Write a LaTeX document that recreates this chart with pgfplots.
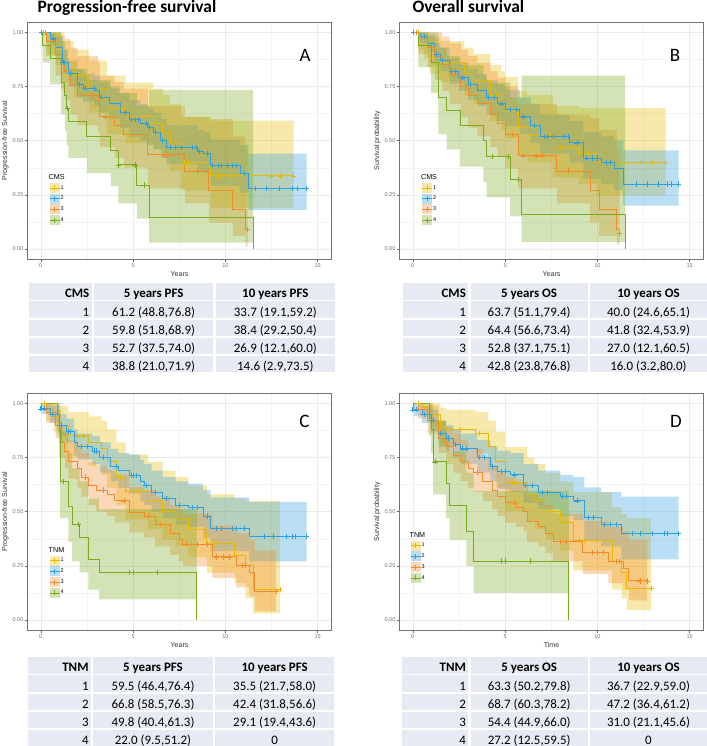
\documentclass[border=0pt]{standalone}
\usepackage{fontspec}
\setmainfont{Carlito}
\newfontfamily\arialf{Liberation Sans}
\usepackage{pgfplots}
\pgfplotsset{compat=1.18}
\usepackage{pgfplotstable}
\usepgfplotslibrary{fillbetween}

\definecolor{cA}{RGB}{231,184,0}
\definecolor{cB}{RGB}{46,159,223}
\definecolor{cC}{RGB}{242,140,40}
\definecolor{cD}{RGB}{122,171,30}
\definecolor{tabfill}{RGB}{232,234,243}
\definecolor{gridc}{RGB}{235,235,235}

% ---------------- Panel A (PFS, CMS) ----------------
\pgfplotstableread{
t s lo hi
0 1 1 1
0.3 0.96 0.90 1
0.8 0.92 0.85 1
1.2 0.86 0.77 0.96
1.8 0.80 0.70 0.92
2.6 0.74 0.63 0.87
3.6 0.65 0.53 0.80
4.6 0.612 0.488 0.768
6.1 0.58 0.46 0.74
6.6 0.54 0.42 0.71
7.0 0.49 0.36 0.67
7.6 0.40 0.27 0.61
9.2 0.337 0.191 0.592
13.7 0.337 0.191 0.592
}\Aone
\pgfplotstableread{
t s lo hi
0 1 1 1
0.5 0.97 0.94 1
0.8 0.93 0.89 0.98
1.2 0.86 0.81 0.92
1.5 0.81 0.75 0.87
2.0 0.76 0.70 0.83
2.3 0.74 0.68 0.81
2.9 0.73 0.66 0.80
3.2 0.70 0.63 0.77
3.7 0.67 0.60 0.75
4.3 0.63 0.56 0.72
4.8 0.598 0.518 0.689
5.4 0.58 0.50 0.67
5.8 0.56 0.48 0.65
6.1 0.54 0.46 0.63
6.5 0.50 0.42 0.60
6.8 0.47 0.39 0.57
8.5 0.45 0.36 0.55
8.8 0.44 0.35 0.54
9.2 0.384 0.292 0.504
10.8 0.35 0.26 0.48
11.25 0.28 0.18 0.44
14.4 0.28 0.18 0.44
}\Atwo
\pgfplotstableread{
t s lo hi
0 1 1 1
0.3 0.96 0.89 1
0.8 0.90 0.80 1
1.1 0.86 0.74 0.99
1.3 0.82 0.69 0.97
1.6 0.76 0.62 0.93
2.0 0.71 0.57 0.89
3.1 0.68 0.54 0.86
3.2 0.61 0.47 0.80
4.0 0.57 0.42 0.77
4.5 0.527 0.375 0.74
5.8 0.434 0.28 0.66
7.8 0.36 0.21 0.61
9.1 0.269 0.121 0.60
10.4 0.18 0.06 0.52
11.1 0.09 0.01 0.45
11.2 0.09 0.01 0.45
}\Athree
\pgfplotstableread{
t s lo hi
0 1 1 1
0.1 0.94 0.86 1
0.5 0.88 0.76 1
1.1 0.77 0.62 0.96
1.3 0.71 0.55 0.92
1.4 0.65 0.48 0.88
1.5 0.59 0.42 0.83
2.5 0.52 0.35 0.78
3.8 0.457 0.29 0.74
4.2 0.388 0.21 0.719
5.2 0.295 0.14 0.66
5.87 0.146 0.029 0.735
11.5 0 0.029 0.735
}\Afour

% ---------------- Panel B (OS, CMS) ----------------
\pgfplotstableread{
t s lo hi
0 1 1 1
0.3 0.97 0.92 1
0.6 0.94 0.88 1
0.9 0.89 0.81 0.98
1.5 0.86 0.77 0.96
2.8 0.81 0.71 0.93
3.3 0.78 0.67 0.90
4.2 0.71 0.59 0.85
4.8 0.67 0.55 0.82
5.0 0.637 0.511 0.794
5.7 0.56 0.43 0.73
6.2 0.53 0.40 0.71
7.6 0.47 0.33 0.66
9.0 0.44 0.30 0.65
10.0 0.40 0.246 0.651
13.7 0.40 0.246 0.651
}\Bone
\pgfplotstableread{
t s lo hi
0 1 1 1
0.4 0.98 0.95 1
0.8 0.95 0.91 0.99
1.2 0.90 0.85 0.95
1.5 0.87 0.82 0.93
2.0 0.82 0.76 0.88
2.5 0.79 0.73 0.86
3.0 0.76 0.69 0.83
3.5 0.73 0.66 0.81
4.0 0.70 0.62 0.78
4.6 0.67 0.59 0.76
5.0 0.644 0.566 0.734
5.8 0.61 0.53 0.70
6.4 0.57 0.49 0.67
6.9 0.52 0.44 0.62
8.5 0.49 0.40 0.59
9.24 0.42 0.324 0.539
10.2 0.40 0.30 0.52
10.9 0.37 0.27 0.50
11.4 0.30 0.20 0.455
14.4 0.30 0.20 0.455
}\Btwo
\pgfplotstableread{
t s lo hi
0 1 1 1
0.3 0.97 0.90 1
0.8 0.93 0.84 1
1.2 0.89 0.78 1
1.6 0.85 0.73 0.98
2.0 0.80 0.67 0.95
2.6 0.75 0.61 0.92
3.0 0.71 0.56 0.89
3.5 0.67 0.52 0.86
4.2 0.62 0.47 0.82
4.6 0.58 0.43 0.79
5.0 0.528 0.371 0.751
5.7 0.43 0.28 0.67
7.8 0.36 0.21 0.62
9.6 0.27 0.121 0.605
10.1 0.18 0.06 0.55
11.05 0.09 0.02 0.45
11.2 0.09 0.02 0.45
}\Bthree
\pgfplotstableread{
t s lo hi
0 1 1 1
0.3 0.94 0.84 1
1.0 0.86 0.72 1
1.39 0.70 0.53 0.93
1.84 0.64 0.46 0.89
2.56 0.57 0.38 0.85
3.83 0.50 0.31 0.80
4.0 0.428 0.238 0.768
5.27 0.32 0.15 0.70
5.9 0.16 0.032 0.80
11.5 0 0.032 0.80
}\Bfour

% ---------------- Panel C (PFS, TNM) ----------------
\pgfplotstableread{
t s lo hi
0 1 1 1
0.3 0.97 0.92 1
0.7 0.94 0.87 1
1.0 0.90 0.82 0.99
1.5 0.85 0.75 0.96
2.6 0.82 0.71 0.94
3.3 0.79 0.67 0.92
3.6 0.73 0.61 0.88
4.1 0.66 0.53 0.82
4.6 0.595 0.464 0.764
5.8 0.55 0.42 0.73
6.6 0.50 0.37 0.69
7.3 0.47 0.34 0.66
8.0 0.42 0.29 0.62
9.0 0.355 0.217 0.58
10.5 0.30 0.17 0.56
11.1 0.25 0.10 0.55
11.5 0.14 0.03 0.55
12.95 0.14 0.03 0.55
}\Cone
\pgfplotstableread{
t s lo hi
0 1 1 1
0.05 0.975 0.95 1
0.5 0.95 0.91 0.99
1.0 0.90 0.85 0.95
1.4 0.87 0.82 0.93
1.8 0.82 0.76 0.88
2.0 0.80 0.74 0.86
2.8 0.78 0.72 0.85
3.2 0.75 0.68 0.82
3.8 0.71 0.64 0.79
4.2 0.69 0.61 0.77
4.8 0.668 0.585 0.763
5.4 0.64 0.55 0.74
5.6 0.62 0.53 0.72
6.0 0.59 0.50 0.69
6.6 0.56 0.47 0.66
7.3 0.53 0.44 0.64
8.0 0.52 0.43 0.63
8.8 0.48 0.38 0.60
9.2 0.424 0.318 0.566
11.3 0.385 0.27 0.545
14.4 0.385 0.27 0.545
}\Ctwo
\pgfplotstableread{
t s lo hi
0 1 1 1
0.3 0.96 0.91 1
0.8 0.90 0.84 0.97
1.1 0.82 0.75 0.90
1.3 0.78 0.70 0.87
1.5 0.73 0.65 0.83
2.0 0.70 0.61 0.80
2.2 0.66 0.57 0.77
2.6 0.62 0.53 0.73
3.0 0.60 0.50 0.71
3.6 0.58 0.48 0.69
4.0 0.55 0.45 0.67
4.8 0.498 0.404 0.613
5.6 0.48 0.38 0.60
6.2 0.44 0.34 0.57
7.0 0.40 0.30 0.53
7.5 0.37 0.27 0.51
7.7 0.35 0.25 0.49
9.3 0.291 0.194 0.436
10.6 0.25 0.15 0.40
11.3 0.22 0.11 0.37
11.6 0.13 0.04 0.32
12.75 0.13 0.04 0.32
}\Cthree
\pgfplotstableread{
t s lo hi
0 1 1 1
0.9 0.95 0.86 1
1.0 0.88 0.75 1
1.05 0.64 0.47 0.87
1.5 0.525 0.36 0.77
1.7 0.44 0.27 0.70
2.1 0.38 0.22 0.64
2.58 0.277 0.14 0.56
3.16 0.22 0.095 0.512
8.45 0 0.095 0.512
}\Cfour

% ---------------- Panel D (OS, TNM) ----------------
\pgfplotstableread{
t s lo hi
0 1 1 1
0.5 0.98 0.94 1
1.0 0.95 0.89 1
1.5 0.89 0.81 0.98
1.8 0.88 0.80 0.97
3.4 0.86 0.77 0.96
4.1 0.80 0.69 0.92
4.5 0.73 0.61 0.87
5.0 0.633 0.502 0.798
6.2 0.58 0.45 0.75
6.6 0.55 0.42 0.72
7.2 0.50 0.37 0.68
8.0 0.45 0.32 0.64
8.7 0.367 0.229 0.59
10.8 0.27 0.14 0.52
11.3 0.22 0.10 0.49
11.6 0.145 0.045 0.47
12.9 0.145 0.045 0.47
}\Done
\pgfplotstableread{
t s lo hi
0 1 1 1
0.05 0.97 0.94 1
0.5 0.95 0.91 0.99
1.0 0.92 0.87 0.97
1.4 0.86 0.80 0.92
1.8 0.84 0.78 0.90
2.2 0.81 0.75 0.88
2.6 0.79 0.72 0.86
3.5 0.75 0.68 0.83
4.2 0.71 0.64 0.80
4.6 0.687 0.603 0.782
5.3 0.67 0.59 0.77
6.0 0.62 0.54 0.72
6.8 0.59 0.51 0.69
8.0 0.57 0.48 0.67
8.7 0.55 0.46 0.66
9.3 0.472 0.364 0.612
10.2 0.44 0.34 0.59
11.3 0.40 0.28 0.57
14.4 0.40 0.28 0.57
}\Dtwo
\pgfplotstableread{
t s lo hi
0 1 1 1
0.3 0.97 0.93 1
0.8 0.92 0.86 0.99
1.4 0.84 0.77 0.92
1.8 0.80 0.72 0.89
2.2 0.76 0.68 0.86
2.6 0.73 0.64 0.83
3.0 0.70 0.61 0.80
3.3 0.68 0.59 0.79
3.8 0.64 0.55 0.75
4.3 0.60 0.51 0.71
4.6 0.57 0.48 0.68
5.0 0.544 0.449 0.66
5.6 0.52 0.43 0.64
6.0 0.50 0.41 0.62
6.2 0.456 0.36 0.58
6.8 0.43 0.34 0.56
7.2 0.40 0.31 0.53
7.6 0.364 0.27 0.49
9.2 0.31 0.211 0.456
10.6 0.27 0.17 0.43
11.4 0.24 0.14 0.41
11.7 0.18 0.09 0.37
12.7 0.18 0.09 0.37
}\Dthree
\pgfplotstableread{
t s lo hi
0 1 1 1
0.9 0.93 0.85 1
1.0 0.88 0.77 1
1.1 0.73 0.58 0.92
1.8 0.632 0.47 0.85
2.0 0.528 0.37 0.78
2.9 0.41 0.25 0.68
3.3 0.272 0.125 0.595
8.45 0 0.125 0.595
}\Dfour

\newcommand{\band}[3]{%
  \addplot[name path=u#3, draw=none, const plot, forget plot] table[x=t,y=hi]{#1};
  \addplot[name path=l#3, draw=none, const plot, forget plot] table[x=t,y=lo]{#1};
  \addplot[fill=#2, fill opacity=0.33, draw=none, forget plot] fill between[of=u#3 and l#3];
}
\newcommand{\curve}[2]{%
  \addplot[#2, const plot, line width=0.9bp, forget plot] table[x=t,y=s]{#1};
}

\pgfplotsset{
  kmkey/.style={#1, mark=+, mark size=2.5bp, line width=0.6bp, mark options={solid, line width=0.6bp}},
  cens/.style={#1, only marks, mark=+, mark size=2.6bp, mark options={line width=0.6bp}, forget plot},
  kmaxis/.style={
    scale only axis, width=304.4bp, height=237.3bp, anchor=south west,
    xmin=-0.73, xmax=15.76, ymin=-0.048, ymax=1.048,
    xtick={0,5,10,15}, xticklabels={0,5,10,15},
    ytick={0,0.25,0.5,0.75,1}, yticklabels={0.00,0.25,0.50,0.75,1.00},
    minor xtick={2.5,7.5,12.5}, minor ytick={0.125,0.375,0.625,0.875},
    grid=both,
    major grid style={gridc, line width=0.5bp},
    minor grid style={gridc!60!white, line width=0.3bp},
    tick pos=left, tick align=outside, major tick length=2.5bp, minor tick length=0pt,
    tick style={black!60, line width=0.4bp},
    axis line style={black!55, line width=0.6bp},
    ticklabel style={font=\arialf\fontsize{5.6}{6}\selectfont, text=black!55, inner sep=1.2bp},
    label style={font=\arialf\fontsize{7.1}{8}\selectfont, text=black!80},
    xlabel style={at={(axis description cs:0.5,-0.0606)}, anchor=center},
    ylabel style={at={(axis description cs:-0.0723,0.5)}, anchor=center},
    legend style={anchor=north west, draw=none, fill=none, inner sep=0pt, outer sep=0pt,
      font=\arialf\fontsize{5.5}{6}\selectfont, row sep=0.7bp, nodes={inner sep=0.8bp},
      cells={anchor=west}},
    legend image code/.code={
      \fill[fill opacity=0.33, draw=none] (0bp,-5bp) rectangle (10bp,5bp);
      \draw[mark repeat=2, mark phase=2] plot coordinates {(0bp,0bp) (5bp,0bp) (10bp,0bp)};
    },
  }
}

\newcommand{\trow}[5]{%
  \fill[tabfill] (\ca bp,-#1bp) rectangle (\cb bp,{-(#1+16.2)*1bp});
  \fill[tabfill] (\cc bp,-#1bp) rectangle (\cd bp,{-(#1+16.2)*1bp});
  \fill[tabfill] (\ce bp,-#1bp) rectangle (\cf bp,{-(#1+16.2)*1bp});
  \node[anchor=base east, inner sep=0] at ({(\cb-2.2)*1bp},{-(#1+14.6)*1bp}) {#5#2};
  \node[anchor=base, inner sep=0] at ({(\cc+\cd)/2*1bp},{-(#1+14.6)*1bp}) {#5#3};
  \node[anchor=base, inner sep=0] at ({(\ce+\cf)/2*1bp},{-(#1+14.6)*1bp}) {#5#4};
}

\begin{document}
\begin{tikzpicture}

% Titles
\node[anchor=base west, inner sep=0, font=\fontsize{17.5}{20}\selectfont\bfseries] at (37.3bp,-12.3bp) {Progression-free survival};
\node[anchor=base west, inner sep=0, font=\fontsize{17.5}{20}\selectfont\bfseries] at (412.3bp,-12.3bp) {Overall survival};

% ===== Panel A =====
\begin{axis}[kmaxis, at={(27.3bp,-259.3bp)}, xlabel={Years}, ylabel={Progression-free Survival},
  legend style={at={(0.0723,0.359)}}]
\addlegendimage{empty legend}\addlegendentry{\hspace*{-12bp}\fontsize{7.2}{8}\selectfont CMS}
\addlegendimage{kmkey=cA}\addlegendentry{1}
\addlegendimage{kmkey=cB}\addlegendentry{2}
\addlegendimage{kmkey=cC}\addlegendentry{3}
\addlegendimage{kmkey=cD}\addlegendentry{4}
\band{\Aone}{cA}{a1}
\band{\Atwo}{cB}{a2}
\band{\Athree}{cC}{a3}
\band{\Afour}{cD}{a4}
\curve{\Aone}{cA}
\curve{\Atwo}{cB}
\curve{\Athree}{cC}
\curve{\Afour}{cD}
\addplot[cens=cA] coordinates {(0.15,1) (3.8,0.65) (4.4,0.65) (6.0,0.58) (7.8,0.40) (8.0,0.40) (9.6,0.337) (10.3,0.337) (12.5,0.337) (13.0,0.337) (13.7,0.337)};
\addplot[cens=cB] coordinates {(0.05,1) (0.7,0.97) (1.2,0.86) (1.3,0.86) (1.6,0.81) (2.1,0.76) (2.4,0.74) (2.9,0.74) (3.3,0.70) (4.6,0.63) (4.9,0.598) (5.1,0.598) (5.3,0.598) (5.7,0.58) (5.9,0.56) (6.2,0.54) (6.6,0.50) (7.0,0.47) (7.3,0.47) (7.6,0.47) (8.2,0.47) (8.4,0.47) (8.6,0.45) (9.0,0.44) (9.3,0.384) (9.6,0.384) (9.8,0.384) (10.1,0.384) (10.4,0.384) (10.6,0.384) (11.0,0.35) (11.6,0.28) (12.2,0.28) (12.9,0.28) (13.6,0.28) (13.9,0.28) (14.4,0.28)};
\addplot[cens=cC] coordinates {(0.25,1) (2.8,0.71) (3.5,0.61) (6.8,0.434) (8.5,0.36) (11.2,0.09)};
\addplot[cens=cD] coordinates {(1.45,0.65) (4.2,0.388) (5.1,0.388) (5.6,0.295)};
\end{axis}
\node[anchor=base, inner sep=0, font=\fontsize{19}{22}\selectfont] at (305bp,-61bp) {A};

% ===== Panel B =====
\begin{axis}[kmaxis, at={(399.3bp,-259.3bp)}, xlabel={Years}, ylabel={Survival probability},
  legend style={at={(0.0735,0.359)}}]
\addlegendimage{empty legend}\addlegendentry{\hspace*{-12bp}\fontsize{7.2}{8}\selectfont CMS}
\addlegendimage{kmkey=cA}\addlegendentry{1}
\addlegendimage{kmkey=cB}\addlegendentry{2}
\addlegendimage{kmkey=cC}\addlegendentry{3}
\addlegendimage{kmkey=cD}\addlegendentry{4}
\band{\Bone}{cA}{b1}
\band{\Btwo}{cB}{b2}
\band{\Bthree}{cC}{b3}
\band{\Bfour}{cD}{b4}
\curve{\Bone}{cA}
\curve{\Btwo}{cB}
\curve{\Bthree}{cC}
\curve{\Bfour}{cD}
\addplot[cens=cA] coordinates {(0.3,1) (2.2,0.86) (3.6,0.78) (4.5,0.71) (6.0,0.56) (7.2,0.53) (8.0,0.47) (9.5,0.44) (12.4,0.40) (13.0,0.40) (13.7,0.40)};
\addplot[cens=cB] coordinates {(0.05,1) (0.6,0.98) (1.3,0.90) (1.6,0.87) (2.1,0.82) (2.3,0.82) (2.7,0.79) (3.1,0.76) (4.1,0.70) (4.4,0.70) (4.8,0.67) (5.3,0.644) (5.6,0.644) (6.0,0.61) (6.6,0.57) (7.1,0.52) (7.3,0.52) (7.6,0.52) (8.2,0.52) (8.4,0.52) (8.9,0.49) (9.4,0.42) (9.7,0.42) (10.0,0.42) (10.5,0.40) (10.7,0.40) (12.1,0.30) (12.7,0.30) (13.3,0.30) (13.8,0.30) (14.0,0.30) (14.4,0.30)};
\addplot[cens=cC] coordinates {(0.2,1) (2.4,0.80) (5.4,0.528) (6.0,0.43) (6.7,0.43) (7.0,0.43) (8.4,0.36) (11.2,0.07)};
\addplot[cens=cD] coordinates {(4.3,0.428) (5.2,0.428) (5.7,0.32)};
\end{axis}
\node[anchor=base, inner sep=0, font=\fontsize{19}{22}\selectfont] at (675bp,-61bp) {B};

% ===== Panel C =====
\begin{axis}[kmaxis, at={(27.3bp,-630.3bp)}, xlabel={Years}, ylabel={Progression-free Survival},
  legend style={at={(0.0723,0.351)}}]
\addlegendimage{empty legend}\addlegendentry{\hspace*{-12bp}\fontsize{7.2}{8}\selectfont TNM}
\addlegendimage{kmkey=cA}\addlegendentry{1}
\addlegendimage{kmkey=cB}\addlegendentry{2}
\addlegendimage{kmkey=cC}\addlegendentry{3}
\addlegendimage{kmkey=cD}\addlegendentry{4}
\band{\Cone}{cA}{c1}
\band{\Ctwo}{cB}{c2}
\band{\Cthree}{cC}{c3}
\band{\Cfour}{cD}{c4}
\curve{\Cone}{cA}
\curve{\Ctwo}{cB}
\curve{\Cthree}{cC}
\curve{\Cfour}{cD}
\addplot[cens=cA] coordinates {(0.2,1) (2.0,0.85) (2.3,0.85) (4.3,0.66) (5.0,0.595) (5.3,0.595) (9.4,0.355) (9.8,0.355) (10.2,0.355) (12.95,0.14)};
\addplot[cens=cB] coordinates {(0,0.975) (0.2,0.975) (0.6,0.95) (1.1,0.90) (1.5,0.87) (1.6,0.87) (2.2,0.80) (2.5,0.80) (2.9,0.78) (3.0,0.78) (3.4,0.75) (4.1,0.71) (4.9,0.668) (5.0,0.668) (5.2,0.668) (5.7,0.62) (6.2,0.59) (6.8,0.56) (7.5,0.53) (8.2,0.52) (8.5,0.52) (9.0,0.48) (9.5,0.424) (9.8,0.424) (10.4,0.424) (10.6,0.424) (11.0,0.424) (12.1,0.385) (12.6,0.385) (13.3,0.385) (13.6,0.385) (13.8,0.385) (14.4,0.385)};
\addplot[cens=cC] coordinates {(2.4,0.66) (3.4,0.60) (4.5,0.55) (5.8,0.48) (6.5,0.44) (7.9,0.35) (8.5,0.35) (9.0,0.35) (9.5,0.291) (9.9,0.291) (10.2,0.291) (10.9,0.25) (11.1,0.25) (12.75,0.13)};
\addplot[cens=cD] coordinates {(1.2,0.64) (2.05,0.44) (4.8,0.22) (5.0,0.22) (6.3,0.22)};
\end{axis}
\node[anchor=base, inner sep=0, font=\fontsize{19}{22}\selectfont] at (304.5bp,-427.3bp) {C};

% ===== Panel D =====
\begin{axis}[kmaxis, at={(399.3bp,-630.3bp)}, xlabel={Time}, ylabel={Survival probability},
  legend style={at={(0.036,0.414)}}]
\addlegendimage{empty legend}\addlegendentry{\hspace*{-12bp}\fontsize{7.2}{8}\selectfont TNM}
\addlegendimage{kmkey=cA}\addlegendentry{1}
\addlegendimage{kmkey=cB}\addlegendentry{2}
\addlegendimage{kmkey=cC}\addlegendentry{3}
\addlegendimage{kmkey=cD}\addlegendentry{4}
\band{\Done}{cA}{d1}
\band{\Dtwo}{cB}{d2}
\band{\Dthree}{cC}{d3}
\band{\Dfour}{cD}{d4}
\curve{\Done}{cA}
\curve{\Dtwo}{cB}
\curve{\Dthree}{cC}
\curve{\Dfour}{cD}
\addplot[cens=cA] coordinates {(0.3,1) (2.0,0.88) (2.6,0.88) (3.6,0.86) (5.5,0.633) (9.0,0.367) (9.3,0.367) (10.0,0.367) (12.9,0.145)};
\addplot[cens=cB] coordinates {(0,0.97) (0.2,0.97) (0.6,0.95) (1.1,0.92) (1.5,0.86) (1.9,0.84) (2.3,0.81) (2.7,0.79) (2.9,0.79) (3.6,0.75) (3.9,0.75) (4.3,0.71) (4.8,0.687) (5.0,0.687) (5.5,0.67) (6.1,0.62) (6.5,0.62) (7.0,0.59) (7.3,0.59) (8.1,0.57) (8.3,0.57) (8.9,0.55) (9.5,0.472) (9.8,0.472) (10.4,0.44) (10.7,0.44) (11.0,0.44) (11.9,0.40) (12.3,0.40) (13.0,0.40) (13.6,0.40) (13.8,0.40) (14.4,0.40)};
\addplot[cens=cC] coordinates {(3.5,0.68) (5.5,0.544) (8.0,0.364) (8.3,0.364) (9.7,0.31) (10.0,0.31) (10.3,0.31) (11.0,0.27) (11.2,0.27) (12.3,0.18) (12.7,0.18)};
\addplot[cens=cD] coordinates {(1.2,0.73) (4.8,0.272) (5.0,0.272) (6.35,0.272)};
\end{axis}
\node[anchor=base, inner sep=0, font=\fontsize{19}{22}\selectfont] at (676bp,-427.3bp) {D};

% ===== Tables =====
\begin{scope}[font=\fontsize{13}{15}\selectfont]
% Table A
\def\ca{29}\def\cb{91.7}\def\cc{94}\def\cd{213.3}\def\ce{215.7}\def\cf{335}
\trow{283.3}{CMS}{5 years PFS}{10 years PFS}{\bfseries}
\trow{301.4}{1}{61.2 (48.8,76.8)}{33.7 (19.1,59.2)}{}
\trow{319.5}{2}{59.8 (51.8,68.9)}{38.4 (29.2,50.4)}{}
\trow{337.6}{3}{52.7 (37.5,74.0)}{26.9 (12.1,60.0)}{}
\trow{355.7}{4}{38.8 (21.0,71.9)}{14.6 (2.9,73.5)}{}
% Table B
\def\ca{402.7}\def\cb{468.3}\def\cc{470.6}\def\cd{587.7}\def\ce{590}\def\cf{707}
\trow{283.3}{CMS}{5 years OS}{10 years OS}{\bfseries}
\trow{301.4}{1}{63.7 (51.1,79.4)}{40.0 (24.6,65.1)}{}
\trow{319.5}{2}{64.4 (56.6,73.4)}{41.8 (32.4,53.9)}{}
\trow{337.6}{3}{52.8 (37.1,75.1)}{27.0 (12.1,60.5)}{}
\trow{355.7}{4}{42.8 (23.8,76.8)}{16.0 (3.2,80.0)}{}
% Table C
\def\ca{28}\def\cb{91}\def\cc{93.3}\def\cd{212.7}\def\ce{215}\def\cf{334.3}
\trow{657.3}{TNM}{5 years PFS}{10 years PFS}{\bfseries}
\trow{675.4}{1}{59.5 (46.4,76.4)}{35.5 (21.7,58.0)}{}
\trow{693.5}{2}{66.8 (58.5,76.3)}{42.4 (31.8,56.6)}{}
\trow{711.6}{3}{49.8 (40.4,61.3)}{29.1 (19.4,43.6)}{}
\trow{729.7}{4}{22.0 (9.5,51.2)}{0}{}
% Table D
\def\ca{402.3}\def\cb{468.3}\def\cc{470.7}\def\cd{587.7}\def\ce{590}\def\cf{707}
\trow{657.3}{TNM}{5 years OS}{10 years OS}{\bfseries}
\trow{675.4}{1}{63.3 (50.2,79.8)}{36.7 (22.9,59.0)}{}
\trow{693.5}{2}{68.7 (60.3,78.2)}{47.2 (36.4,61.2)}{}
\trow{711.6}{3}{54.4 (44.9,66.0)}{31.0 (21.1,45.6)}{}
\trow{729.7}{4}{27.2 (12.5,59.5)}{0}{}
\end{scope}
\pgfresetboundingbox
\path[use as bounding box] (0bp,0bp) rectangle (707bp,-746bp);
\end{tikzpicture}
\end{document}
